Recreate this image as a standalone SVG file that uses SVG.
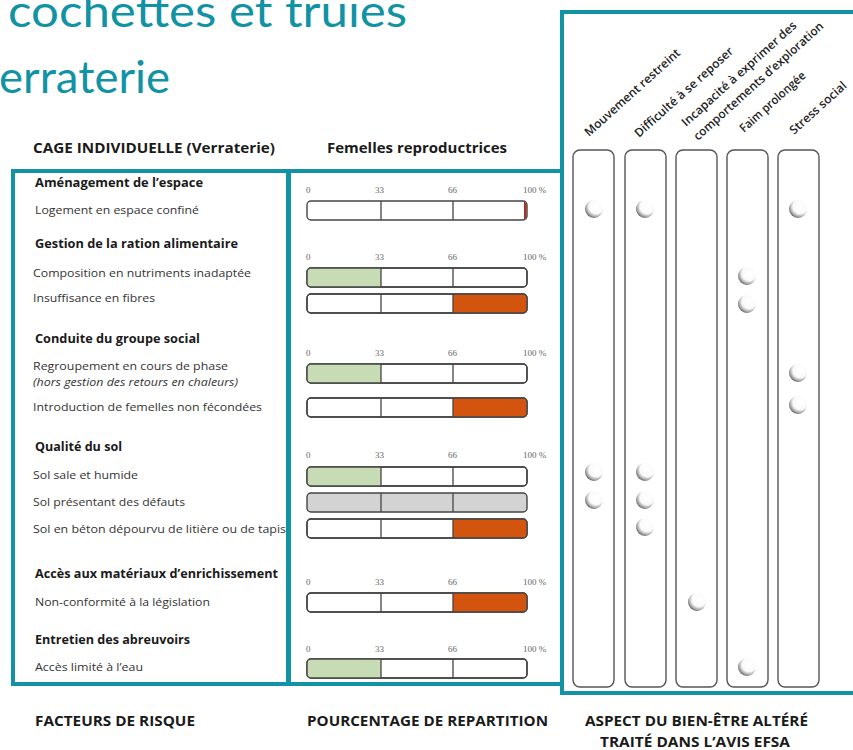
<svg xmlns="http://www.w3.org/2000/svg" width="853" height="750" viewBox="0 0 853 750">
<style>
.title{font-family:Lato,"Noto Sans",sans-serif;font-size:44px;fill:#1193A5}
.hd{font-family:"Open Sans","Noto Sans",sans-serif;font-weight:bold;font-size:13.5px;fill:#1a1a1a}
.sec{font-family:"Open Sans","Noto Sans",sans-serif;font-weight:bold;font-size:12.5px;fill:#1a1a1a}
.it{font-family:"Open Sans","Noto Sans",sans-serif;font-size:11.5px;fill:#333}
.itl{font-family:"Open Sans","Noto Sans",sans-serif;font-size:10px;font-style:italic;fill:#333}
.sc{font-family:"Liberation Serif",serif;font-size:9px;fill:#666}
.rot{font-family:"Open Sans","Noto Sans",sans-serif;font-size:12px;font-weight:600;fill:#222}
.teal{fill:none;stroke:#1193A5;stroke-width:4}
.bar{fill:#fff;stroke:#444;stroke-width:1.4}
.div{stroke:#444;stroke-width:1.3}
.green{fill:#c7dcb5}
.orange{fill:#d2540f}
.gray{fill:#d3d3d3}
.col{fill:#fff;stroke:#555;stroke-width:1.4}
.dot{fill:url(#sph)}
</style>
<defs>
<radialGradient id="sph" cx="62%" cy="36%" r="66%">
<stop offset="0" stop-color="#fff"/>
<stop offset="0.6" stop-color="#fafafa"/>
<stop offset="0.82" stop-color="#b5b5b5"/>
<stop offset="1" stop-color="#6e6e6e"/>
</radialGradient>
<g id="scale">
<text class="sc" x="306" y="0">0</text>
<text class="sc" x="375" y="0">33</text>
<text class="sc" x="448" y="0">66</text>
<text class="sc" x="523" y="0">100 %</text>
</g>
</defs>
<rect width="853" height="750" fill="#fff"/>

<g id="title">
<text class="title" x="8" y="27" textLength="399" lengthAdjust="spacingAndGlyphs">cochettes et truies</text>
<text class="title" x="-1" y="93" textLength="171" lengthAdjust="spacingAndGlyphs">erraterie</text>
</g>

<g id="headers">
<text class="hd" x="33" y="153" textLength="242" lengthAdjust="spacingAndGlyphs">CAGE INDIVIDUELLE (Verraterie)</text>
<text class="hd" x="327" y="153" textLength="180" lengthAdjust="spacingAndGlyphs">Femelles reproductrices</text>
<text class="hd" x="35" y="726" textLength="160" lengthAdjust="spacingAndGlyphs">FACTEURS DE RISQUE</text>
<text class="hd" x="307" y="726" textLength="241" lengthAdjust="spacingAndGlyphs">POURCENTAGE DE REPARTITION</text>
<text class="hd" x="585" y="726" textLength="223" lengthAdjust="spacingAndGlyphs">ASPECT DU BIEN-ÊTRE ALTÉRÉ</text>
<text class="hd" x="600" y="747" textLength="190" lengthAdjust="spacingAndGlyphs">TRAITÉ DANS L’AVIS EFSA</text>
</g>

<g id="boxes">
<rect class="teal" x="13" y="171" width="275" height="513"/>
<rect class="teal" x="289" y="171" width="273" height="513"/>
<rect class="teal" x="562" y="12" width="300" height="681"/>
</g>

<g id="factors">
<text class="sec" x="35" y="187" textLength="168" lengthAdjust="spacingAndGlyphs">Aménagement de l’espace</text>
<text class="it" x="35" y="214" textLength="164" lengthAdjust="spacingAndGlyphs">Logement en espace confiné</text>
<text class="sec" x="35" y="248" textLength="203" lengthAdjust="spacingAndGlyphs">Gestion de la ration alimentaire</text>
<text class="it" x="33" y="277" textLength="218" lengthAdjust="spacingAndGlyphs">Composition en nutriments inadaptée</text>
<text class="it" x="33" y="302" textLength="122" lengthAdjust="spacingAndGlyphs">Insuffisance en fibres</text>
<text class="sec" x="35" y="343" textLength="165" lengthAdjust="spacingAndGlyphs">Conduite du groupe social</text>
<text class="it" x="33" y="370" textLength="195" lengthAdjust="spacingAndGlyphs">Regroupement en cours de phase</text>
<text class="itl" x="33" y="386" textLength="205" lengthAdjust="spacingAndGlyphs">(hors gestion des retours en chaleurs)</text>
<text class="it" x="33" y="411" textLength="229" lengthAdjust="spacingAndGlyphs">Introduction de femelles non fécondées</text>
<text class="sec" x="35" y="451" textLength="87" lengthAdjust="spacingAndGlyphs">Qualité du sol</text>
<text class="it" x="33" y="479" textLength="105" lengthAdjust="spacingAndGlyphs">Sol sale et humide</text>
<text class="it" x="33" y="506" textLength="152" lengthAdjust="spacingAndGlyphs">Sol présentant des défauts</text>
<text class="it" x="33" y="533" textLength="253" lengthAdjust="spacingAndGlyphs">Sol en béton dépourvu de litière ou de tapis</text>
<text class="sec" x="35" y="578" textLength="243" lengthAdjust="spacingAndGlyphs">Accès aux matériaux d’enrichissement</text>
<text class="it" x="35" y="606" textLength="175" lengthAdjust="spacingAndGlyphs">Non-conformité à la législation</text>
<text class="sec" x="35" y="644" textLength="155" lengthAdjust="spacingAndGlyphs">Entretien des abreuvoirs</text>
<text class="it" x="35" y="671" textLength="108" lengthAdjust="spacingAndGlyphs">Accès limité à l’eau</text>
</g>

<g id="scales">
<use href="#scale" y="193"/>
<use href="#scale" y="260"/>
<use href="#scale" y="356"/>
<use href="#scale" y="458"/>
<use href="#scale" y="585"/>
<use href="#scale" y="652"/>
</g>

<g id="bars">
<rect class="bar" x="307" y="201" width="220" height="19" rx="4"/>
<path d="M524,201.5 a3.5,3.5 0 0 1 2.5,3.5 V216 a3.5,3.5 0 0 1 -2.5,3.5 Z" fill="#a8302a"/>
<line class="div" x1="381" y1="201" x2="381" y2="220"/><line class="div" x1="453" y1="201" x2="453" y2="220"/>

<rect class="bar" x="307" y="268" width="220" height="19" rx="4"/>
<path class="green" d="M381,268 H311 a4,4 0 0 0 -4,4 V283 a4,4 0 0 0 4,4 H381 Z"/>
<rect x="307" y="268" width="220" height="19" rx="4" fill="none" stroke="#444" stroke-width="1.4"/>
<line class="div" x1="381" y1="268" x2="381" y2="287"/><line class="div" x1="453" y1="268" x2="453" y2="287"/>

<rect class="bar" x="307" y="294" width="220" height="19" rx="4"/>
<path class="orange" d="M453,294 H523 a4,4 0 0 1 4,4 V309 a4,4 0 0 1 -4,4 H453 Z"/>
<rect x="307" y="294" width="220" height="19" rx="4" fill="none" stroke="#444" stroke-width="1.4"/>
<line class="div" x1="381" y1="294" x2="381" y2="313"/><line class="div" x1="453" y1="294" x2="453" y2="313"/>

<rect class="bar" x="307" y="364" width="220" height="19" rx="4"/>
<path class="green" d="M381,364 H311 a4,4 0 0 0 -4,4 V379 a4,4 0 0 0 4,4 H381 Z"/>
<rect x="307" y="364" width="220" height="19" rx="4" fill="none" stroke="#444" stroke-width="1.4"/>
<line class="div" x1="381" y1="364" x2="381" y2="383"/><line class="div" x1="453" y1="364" x2="453" y2="383"/>

<rect class="bar" x="307" y="398" width="220" height="19" rx="4"/>
<path class="orange" d="M453,398 H523 a4,4 0 0 1 4,4 V413 a4,4 0 0 1 -4,4 H453 Z"/>
<rect x="307" y="398" width="220" height="19" rx="4" fill="none" stroke="#444" stroke-width="1.4"/>
<line class="div" x1="381" y1="398" x2="381" y2="417"/><line class="div" x1="453" y1="398" x2="453" y2="417"/>

<rect class="bar" x="307" y="467" width="220" height="19" rx="4"/>
<path class="green" d="M381,467 H311 a4,4 0 0 0 -4,4 V482 a4,4 0 0 0 4,4 H381 Z"/>
<rect x="307" y="467" width="220" height="19" rx="4" fill="none" stroke="#444" stroke-width="1.4"/>
<line class="div" x1="381" y1="467" x2="381" y2="486"/><line class="div" x1="453" y1="467" x2="453" y2="486"/>

<rect x="307" y="493" width="220" height="19" rx="4" class="gray" stroke="#444" stroke-width="1.4"/>
<line class="div" x1="381" y1="493" x2="381" y2="512"/><line class="div" x1="453" y1="493" x2="453" y2="512"/>

<rect class="bar" x="307" y="519" width="220" height="19" rx="4"/>
<path class="orange" d="M453,519 H523 a4,4 0 0 1 4,4 V534 a4,4 0 0 1 -4,4 H453 Z"/>
<rect x="307" y="519" width="220" height="19" rx="4" fill="none" stroke="#444" stroke-width="1.4"/>
<line class="div" x1="381" y1="519" x2="381" y2="538"/><line class="div" x1="453" y1="519" x2="453" y2="538"/>

<rect class="bar" x="307" y="593" width="220" height="19" rx="4"/>
<path class="orange" d="M453,593 H523 a4,4 0 0 1 4,4 V608 a4,4 0 0 1 -4,4 H453 Z"/>
<rect x="307" y="593" width="220" height="19" rx="4" fill="none" stroke="#444" stroke-width="1.4"/>
<line class="div" x1="381" y1="593" x2="381" y2="612"/><line class="div" x1="453" y1="593" x2="453" y2="612"/>

<rect class="bar" x="307" y="659" width="220" height="19" rx="4"/>
<path class="green" d="M381,659 H311 a4,4 0 0 0 -4,4 V674 a4,4 0 0 0 4,4 H381 Z"/>
<rect x="307" y="659" width="220" height="19" rx="4" fill="none" stroke="#444" stroke-width="1.4"/>
<line class="div" x1="381" y1="659" x2="381" y2="678"/><line class="div" x1="453" y1="659" x2="453" y2="678"/>
</g>

<g id="aspect-labels">
<text class="rot" transform="translate(589,137) rotate(-42)" textLength="124" lengthAdjust="spacingAndGlyphs">Mouvement restreint</text>
<text class="rot" transform="translate(639,138) rotate(-42)" textLength="128" lengthAdjust="spacingAndGlyphs">Difficulté à se reposer</text>
<text class="rot" transform="translate(686,127) rotate(-42)" textLength="150" lengthAdjust="spacingAndGlyphs">Incapacité à exprimer des</text>
<text class="rot" transform="translate(698,141) rotate(-42)" textLength="170" lengthAdjust="spacingAndGlyphs">comportements d’exploration</text>
<text class="rot" transform="translate(744,133) rotate(-42)" textLength="84" lengthAdjust="spacingAndGlyphs">Faim prolongée</text>
<text class="rot" transform="translate(794,135) rotate(-42)" textLength="72" lengthAdjust="spacingAndGlyphs">Stress social</text>
</g>

<g id="col-mouvement">
<rect class="col" x="573" y="150" width="41" height="537" rx="7"/>
<circle class="dot" cx="594" cy="209" r="9"/>
<circle class="dot" cx="594" cy="472" r="9"/>
<circle class="dot" cx="594" cy="500" r="9"/>
</g>
<g id="col-difficulte">
<rect class="col" x="625" y="150" width="41" height="537" rx="7"/>
<circle class="dot" cx="645" cy="209" r="9"/>
<circle class="dot" cx="645" cy="472" r="9"/>
<circle class="dot" cx="645" cy="500" r="9"/>
<circle class="dot" cx="645" cy="527" r="9"/>
</g>
<g id="col-incapacite">
<rect class="col" x="676" y="150" width="41" height="537" rx="7"/>
<circle class="dot" cx="697" cy="602" r="9"/>
</g>
<g id="col-faim">
<rect class="col" x="727" y="150" width="41" height="537" rx="7"/>
<circle class="dot" cx="747" cy="276" r="9"/>
<circle class="dot" cx="747" cy="304" r="9"/>
<circle class="dot" cx="747" cy="667" r="9"/>
</g>
<g id="col-stress">
<rect class="col" x="778" y="150" width="41" height="537" rx="7"/>
<circle class="dot" cx="798" cy="209" r="9"/>
<circle class="dot" cx="798" cy="373" r="9"/>
<circle class="dot" cx="798" cy="405" r="9"/>
</g>
</svg>
